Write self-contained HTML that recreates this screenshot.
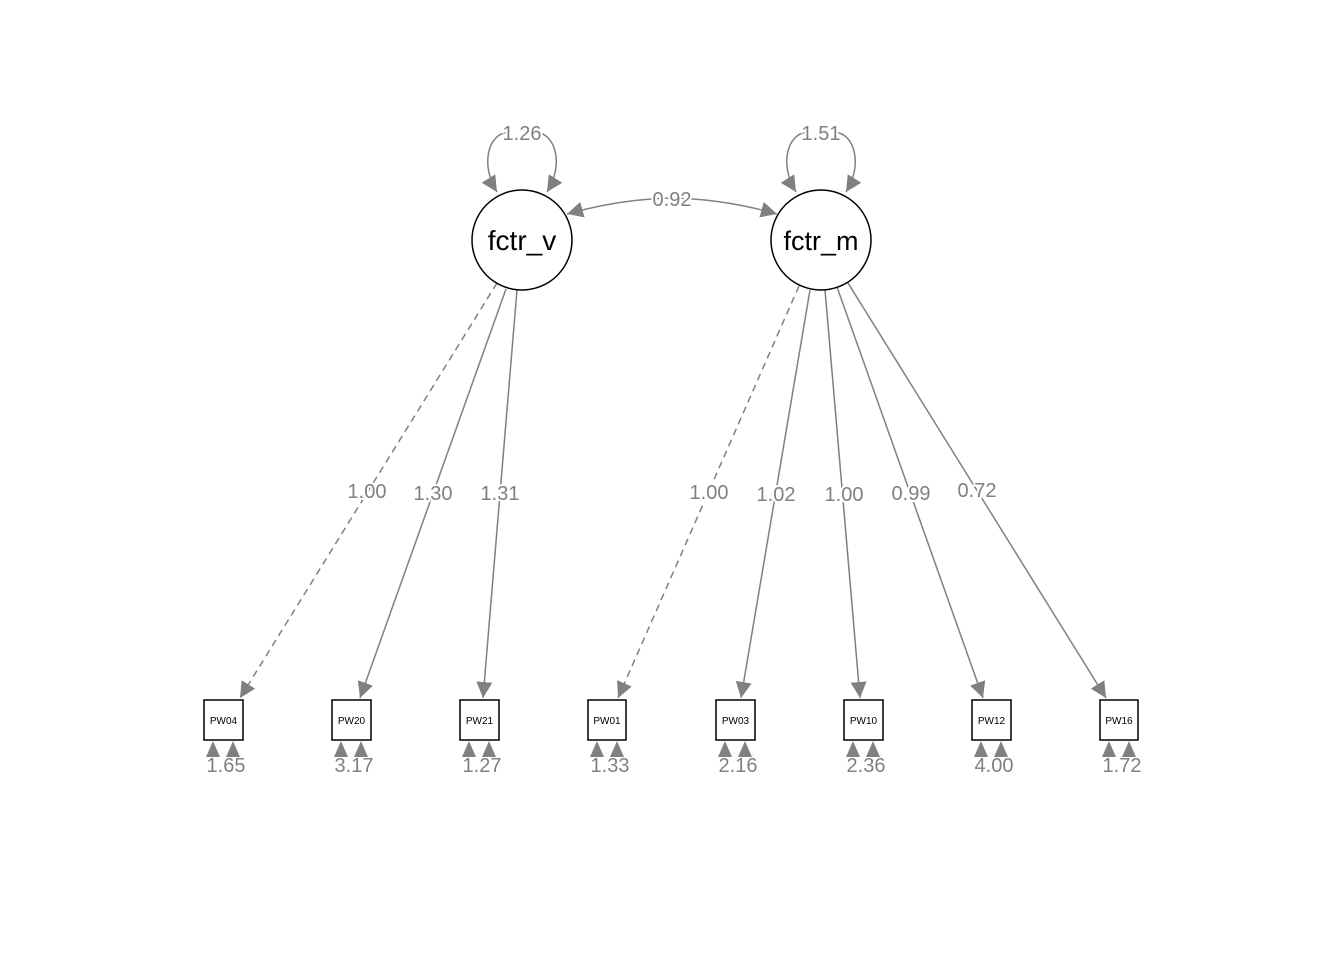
<!DOCTYPE html>
<html><head><meta charset="utf-8"><style>
html,body{margin:0;padding:0;background:#fff;}
svg{display:block;font-family:"Liberation Sans",sans-serif;}
.e{stroke:#808080;stroke-width:1.5;fill:none;}
.l{fill:#808080;font-size:20px;text-anchor:middle;stroke:#fff;stroke-width:4px;paint-order:stroke;}
.r{fill:#808080;font-size:20px;text-anchor:middle;}
.b{fill:#fff;stroke:#000;stroke-width:1.5;}
.bt{font-size:10px;text-anchor:middle;fill:#000;}
</style></head><body>
<svg width="1344" height="960" viewBox="0 0 1344 960">
<defs>
<marker id="a" viewBox="0 0 10 10" refX="10" refY="5" markerWidth="16" markerHeight="16" markerUnits="userSpaceOnUse" orient="auto"><path d="M0,0 L10,5 L0,10 z" fill="#808080"/></marker>
</defs>
<!-- self loops -->
<path class="e" d="M508,132 C488,134 480,165 497,192" marker-end="url(#a)"/>
<path class="e" d="M536,132 C556,134 564,165 547,192" marker-end="url(#a)"/>
<text class="l" x="522" y="140">1.26</text>
<path class="e" d="M807,132 C787,134 779,165 796,192" marker-end="url(#a)"/>
<path class="e" d="M835,132 C855,134 863,165 846,192" marker-end="url(#a)"/>
<text class="l" x="821" y="140">1.51</text>
<!-- covariance -->
<path class="e" d="M672,198 Q620,199 567,214" marker-end="url(#a)"/>
<path class="e" d="M672,198 Q724,199 777,214" marker-end="url(#a)"/>
<text class="l" x="672" y="206">0.92</text>
<!-- loadings -->
<path class="e" d="M497,283 L240,698" stroke-dasharray="7,5" marker-end="url(#a)"/>
<path class="e" d="M506,289 L360,698" marker-end="url(#a)"/>
<path class="e" d="M517,290 L483,698" marker-end="url(#a)"/>
<path class="e" d="M799,286 L618,698" stroke-dasharray="7,5" marker-end="url(#a)"/>
<path class="e" d="M810,290 L741,698" marker-end="url(#a)"/>
<path class="e" d="M825,290 L860,698" marker-end="url(#a)"/>
<path class="e" d="M837,287 L983,698" marker-end="url(#a)"/>
<path class="e" d="M848,283 L1106,698" marker-end="url(#a)"/>
<text class="l" x="367" y="498">1.00</text>
<text class="l" x="433" y="500">1.30</text>
<text class="l" x="500" y="500">1.31</text>
<text class="l" x="709" y="499">1.00</text>
<text class="l" x="776" y="501">1.02</text>
<text class="l" x="844" y="501">1.00</text>
<text class="l" x="911" y="500">0.99</text>
<text class="l" x="977" y="497">0.72</text>
<!-- circles -->
<circle cx="522" cy="240" r="50" fill="#fff" stroke="#000" stroke-width="1.5"/>
<text x="522" y="250" font-size="28" text-anchor="middle">fctr_v</text>
<circle cx="821" cy="240" r="50" fill="#fff" stroke="#000" stroke-width="1.5"/>
<text x="821" y="250" font-size="27" text-anchor="middle">fctr_m</text>
<!-- boxes -->
<g>
<rect class="b" x="204" y="700" width="39" height="40"/><text class="bt" x="223.5" y="724">PW04</text>
<rect class="b" x="332" y="700" width="39" height="40"/><text class="bt" x="351.5" y="724">PW20</text>
<rect class="b" x="460" y="700" width="39" height="40"/><text class="bt" x="479.5" y="724">PW21</text>
<rect class="b" x="588" y="700" width="38" height="40"/><text class="bt" x="607" y="724">PW01</text>
<rect class="b" x="716" y="700" width="39" height="40"/><text class="bt" x="735.5" y="724">PW03</text>
<rect class="b" x="844" y="700" width="39" height="40"/><text class="bt" x="863.5" y="724">PW10</text>
<rect class="b" x="972" y="700" width="39" height="40"/><text class="bt" x="991.5" y="724">PW12</text>
<rect class="b" x="1100" y="700" width="38" height="40"/><text class="bt" x="1119" y="724">PW16</text>
</g>
<!-- residual arrows -->
<g fill="#808080">
<path d="M213,741 L206,757 L220,757 z M233,741 L226,757 L240,757 z"/>
<path d="M341,741 L334,757 L348,757 z M361,741 L354,757 L368,757 z"/>
<path d="M469,741 L462,757 L476,757 z M489,741 L482,757 L496,757 z"/>
<path d="M597,741 L590,757 L604,757 z M617,741 L610,757 L624,757 z"/>
<path d="M725,741 L718,757 L732,757 z M745,741 L738,757 L752,757 z"/>
<path d="M853,741 L846,757 L860,757 z M873,741 L866,757 L880,757 z"/>
<path d="M981,741 L974,757 L988,757 z M1001,741 L994,757 L1008,757 z"/>
<path d="M1109,741 L1102,757 L1116,757 z M1129,741 L1122,757 L1136,757 z"/>
</g>
<text class="r" x="226" y="772">1.65</text>
<text class="r" x="354" y="772">3.17</text>
<text class="r" x="482" y="772">1.27</text>
<text class="r" x="610" y="772">1.33</text>
<text class="r" x="738" y="772">2.16</text>
<text class="r" x="866" y="772">2.36</text>
<text class="r" x="994" y="772">4.00</text>
<text class="r" x="1122" y="772">1.72</text>
</svg>
</body></html>
